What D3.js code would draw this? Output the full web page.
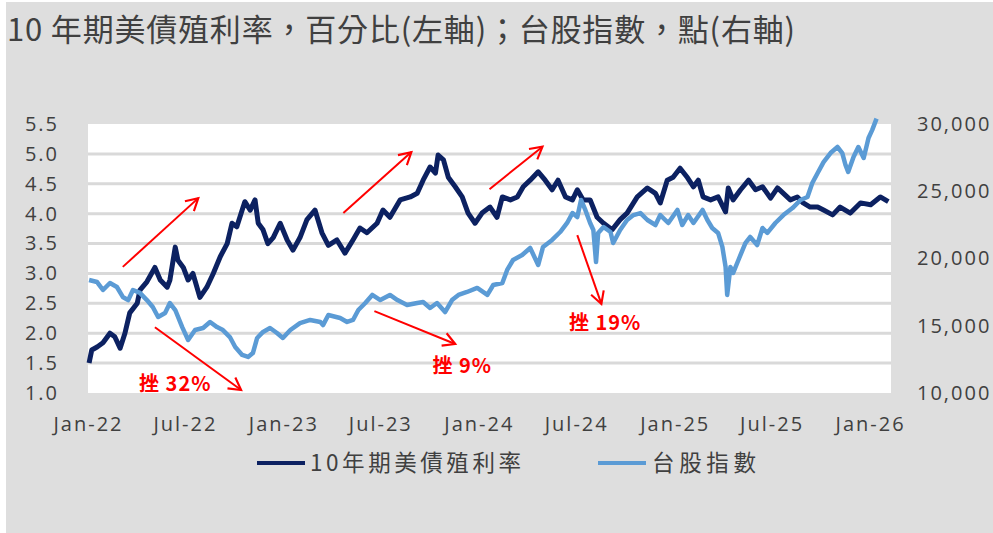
<!DOCTYPE html>
<html><head><meta charset="utf-8">
<script src="https://cdn.jsdelivr.net/npm/d3@7"></script>
<style>body{margin:0;background:#fff;overflow:hidden}</style>
</head><body><svg id="chart" width="993" height="533"></svg>
<script>
// ---------------- data ----------------
const titleText = "10 年期美債殖利率，百分比(左軸)；台股指數，點(右軸)";
const seriesNames = ["10年期美債殖利率", "台股指數"];

const yieldDates = ["2022-01-03","2022-01-08","2022-01-18","2022-01-29","2022-02-11","2022-02-20","2022-03-02","2022-03-11","2022-03-20","2022-04-03","2022-04-08","2022-04-21","2022-05-06","2022-05-16","2022-05-29","2022-06-03","2022-06-13","2022-06-18","2022-06-28","2022-07-07","2022-07-16","2022-07-29","2022-08-11","2022-08-23","2022-09-05","2022-09-18","2022-09-27","2022-10-06","2022-10-16","2022-10-21","2022-10-31","2022-11-09","2022-11-15","2022-11-24","2022-12-03","2022-12-13","2022-12-26","2023-01-08","2023-01-19","2023-02-01","2023-02-14","2023-03-01","2023-03-14","2023-03-26","2023-04-11","2023-04-26","2023-05-11","2023-05-24","2023-06-06","2023-06-25","2023-07-06","2023-07-19","2023-08-07","2023-08-26","2023-09-08","2023-09-19","2023-10-02","2023-10-12","2023-10-17","2023-10-27","2023-11-05","2023-11-18","2023-12-01","2023-12-12","2023-12-25","2024-01-07","2024-01-22","2024-02-04","2024-02-14","2024-02-29","2024-03-13","2024-03-24","2024-04-06","2024-04-21","2024-05-04","2024-05-17","2024-05-28","2024-06-11","2024-06-24","2024-07-03","2024-07-14","2024-07-27","2024-08-09","2024-08-21","2024-09-06","2024-09-21","2024-10-04","2024-10-23","2024-11-11","2024-11-26","2024-12-05","2024-12-18","2024-12-29","2025-01-11","2025-01-25","2025-02-05","2025-02-14","2025-02-23","2025-03-09","2025-03-23","2025-04-06","2025-04-11","2025-04-20","2025-05-04","2025-05-19","2025-06-01","2025-06-14","2025-06-29","2025-07-12","2025-07-23","2025-08-05","2025-08-18","2025-08-29","2025-09-11","2025-09-25","2025-10-06","2025-10-23","2025-11-06","2025-11-25","2025-12-14","2026-01-02","2026-01-20","2026-02-04"];
const yieldValues = [1.50,1.72,1.77,1.84,2.00,1.94,1.75,2.00,2.34,2.50,2.72,2.86,3.10,2.89,2.77,2.89,3.44,3.22,3.10,2.89,3.00,2.60,2.77,3.00,3.28,3.50,3.84,3.78,4.06,4.20,4.06,4.23,3.84,3.73,3.50,3.60,3.84,3.56,3.39,3.60,3.90,4.06,3.68,3.47,3.56,3.34,3.56,3.76,3.68,3.84,4.06,3.94,4.23,4.28,4.34,4.56,4.78,4.68,4.98,4.90,4.61,4.45,4.28,4.01,3.84,4.01,4.11,3.94,4.28,4.23,4.28,4.45,4.56,4.70,4.56,4.40,4.56,4.28,4.23,4.40,4.23,4.23,3.94,3.84,3.73,3.90,4.01,4.28,4.43,4.34,4.18,4.56,4.61,4.76,4.60,4.45,4.56,4.28,4.23,4.28,4.03,4.43,4.23,4.40,4.56,4.40,4.45,4.26,4.43,4.34,4.23,4.28,4.18,4.11,4.11,4.06,3.98,4.11,4.01,4.18,4.15,4.28,4.20];

const taiexDates = ["2022-01-03","2022-01-18","2022-01-29","2022-02-11","2022-02-24","2022-03-07","2022-03-17","2022-03-26","2022-04-08","2022-04-21","2022-05-02","2022-05-12","2022-05-25","2022-06-03","2022-06-13","2022-06-26","2022-07-07","2022-07-20","2022-08-04","2022-08-17","2022-08-30","2022-09-10","2022-09-23","2022-10-03","2022-10-16","2022-10-27","2022-11-05","2022-11-13","2022-11-24","2022-12-07","2022-12-20","2022-12-31","2023-01-14","2023-02-01","2023-02-20","2023-03-11","2023-03-16","2023-03-26","2023-04-17","2023-04-30","2023-05-11","2023-05-21","2023-06-03","2023-06-16","2023-07-01","2023-07-19","2023-08-02","2023-08-20","2023-09-08","2023-09-19","2023-10-02","2023-10-15","2023-10-30","2023-11-12","2023-11-24","2023-12-10","2023-12-29","2024-01-17","2024-01-28","2024-02-14","2024-02-23","2024-03-05","2024-03-22","2024-04-06","2024-04-21","2024-04-30","2024-05-17","2024-06-01","2024-06-14","2024-06-24","2024-07-03","2024-07-10","2024-07-18","2024-07-27","2024-08-02","2024-08-07","2024-08-11","2024-08-21","2024-09-03","2024-09-08","2024-09-21","2024-10-04","2024-10-16","2024-10-29","2024-11-11","2024-11-26","2024-12-05","2024-12-20","2025-01-06","2025-01-15","2025-01-26","2025-02-05","2025-02-22","2025-03-03","2025-03-12","2025-03-23","2025-03-31","2025-04-06","2025-04-09","2025-04-15","2025-04-20","2025-04-30","2025-05-13","2025-05-22","2025-06-04","2025-06-14","2025-06-23","2025-07-08","2025-07-23","2025-08-09","2025-08-24","2025-09-06","2025-09-15","2025-09-25","2025-10-06","2025-10-19","2025-11-01","2025-11-10","2025-11-16","2025-11-21","2025-12-01","2025-12-10","2025-12-20","2025-12-29","2026-01-05","2026-01-13"];
const taiexValues = [18400,18250,17660,18180,17880,17140,16900,17660,17440,16910,16390,15650,15950,16690,16170,14900,13940,14680,14830,15280,14900,14680,14160,13420,12830,12680,12970,14090,14540,14830,14460,14090,14680,15200,15430,15280,15050,15800,15580,15280,15430,16170,16690,17290,16910,17290,16910,16540,16690,16760,16320,16690,16020,16910,17290,17510,17810,17290,18030,18180,19150,19890,20260,20780,19520,20860,21380,21970,22640,23380,23080,24350,23610,22640,22120,19740,21900,22340,21970,21150,22120,22860,23230,23380,22860,22490,23230,22640,23610,22490,23230,22640,23610,22860,22270,21900,20860,19370,17290,19370,18920,19890,21150,21600,21000,22270,21900,22640,23230,23750,24350,24570,25610,26360,27170,27840,28290,27840,26950,26430,27550,28290,27470,28960,29560,30400];

const xTickDates = ["2022-01-01","2022-07-01","2023-01-01","2023-07-01","2024-01-01","2024-07-01","2025-01-01","2025-07-01","2026-01-01"];
const leftTicks = [1.0,1.5,2.0,2.5,3.0,3.5,4.0,4.5,5.0,5.5];
const rightTicks = [10000,15000,20000,25000,30000];

// annotation arrows in data terms (date, left-axis value)
const arrowFromDates = ["2022-03-07","2023-04-23","2024-01-21","2022-05-06","2023-06-20","2024-07-03"];
const arrowFromValues = [3.11,4.01,4.41,2.10,2.37,3.64];
const arrowToDates = ["2022-07-26","2023-08-28","2024-04-29","2022-10-14","2023-11-18","2024-08-17"];
const arrowToValues = [4.26,5.03,5.12,1.05,1.82,2.49];
const noteTexts = ["挫 32%","挫 9%","挫 19%"];
const noteDates = ["2022-06-13","2023-12-01","2024-08-24"];
const noteValues = [1.17,1.47,2.20];

// ---------------- chart ----------------
const parse = d3.timeParse("%Y-%m-%d");
const W = 993, H = 533;
const plot = {left: 88, right: 891, top: 124, bottom: 393};
const navy = "#0c2161", lightBlue = "#5b9bd5", red = "#ff0000", textCol = "#404040";

const svg = d3.select("#chart");
svg.append("rect").attr("x", 0).attr("y", 0).attr("width", W).attr("height", H).attr("fill", "#ffffff");
svg.append("rect").attr("x", 6).attr("y", 2).attr("width", W - 6).attr("height", H - 2).attr("fill", "#dedede");
svg.append("rect").attr("x", plot.left).attr("y", plot.top)
  .attr("width", plot.right - plot.left).attr("height", plot.bottom - plot.top).attr("fill", "#ffffff");

const x = d3.scaleTime().domain([parse("2022-01-01"), parse("2026-02-09")]).range([plot.left, plot.right]);
const yL = d3.scaleLinear().domain([1.0, 5.5]).range([plot.bottom, plot.top]);
const yR = d3.scaleLinear().domain([10000, 30000]).range([plot.bottom, plot.top]);

// gridlines
svg.append("g").selectAll("line").data(leftTicks.filter(v => v > 1.0 && v < 5.5)).join("line")
  .attr("x1", plot.left).attr("x2", plot.right)
  .attr("y1", d => yL(d)).attr("y2", d => yL(d))
  .attr("stroke", "#d9d9d9").attr("stroke-width", 3);

const axisFont = "'Open Sans','Noto Sans',sans-serif";
function styleAxis(g) {
  g.select(".domain").remove();
  g.selectAll("line").remove();
  g.selectAll("text").attr("font-family", axisFont).attr("font-size", 20)
    .attr("fill", textCol).attr("letter-spacing", "2px");
}
svg.append("g").attr("transform", `translate(${plot.left},0)`)
  .call(d3.axisLeft(yL).tickValues(leftTicks).tickFormat(d3.format(".1f")).tickSize(0).tickPadding(29))
  .call(styleAxis);
svg.append("g").attr("transform", `translate(${plot.right},0)`)
  .call(d3.axisRight(yR).tickValues(rightTicks).tickFormat(d3.format(",")).tickSize(0).tickPadding(26))
  .call(styleAxis);
svg.append("g").attr("transform", `translate(0,${plot.bottom})`)
  .call(d3.axisBottom(x).tickValues(xTickDates.map(parse)).tickFormat(d3.timeFormat("%b-%y")).tickSize(0).tickPadding(24))
  .call(styleAxis);

// clip
svg.append("clipPath").attr("id", "clip").append("rect")
  .attr("x", plot.left - 5).attr("y", plot.top - 7).attr("width", plot.right - plot.left + 10).attr("height", plot.bottom - plot.top + 12);

const yieldData = yieldDates.map((d, i) => ({date: parse(d), v: yieldValues[i]}));
const taiexData = taiexDates.map((d, i) => ({date: parse(d), v: taiexValues[i]}));

const gLines = svg.append("g").attr("clip-path", "url(#clip)");
gLines.append("path").datum(yieldData)
  .attr("d", d3.line().x(d => x(d.date)).y(d => yL(d.v)))
  .attr("fill", "none").attr("stroke", navy).attr("stroke-width", 5).attr("stroke-linejoin", "round");
gLines.append("path").datum(taiexData)
  .attr("d", d3.line().x(d => x(d.date)).y(d => yR(d.v)))
  .attr("fill", "none").attr("stroke", lightBlue).attr("stroke-width", 4.5).attr("stroke-linejoin", "round");

// arrows
svg.append("defs").append("marker").attr("id", "arrow")
  .attr("markerUnits", "userSpaceOnUse").attr("markerWidth", 16).attr("markerHeight", 16)
  .attr("viewBox", "0 0 12 12").attr("refX", 10).attr("refY", 6).attr("orient", "auto")
  .append("path").attr("d", "M1,1 L10,6 L1,11").attr("fill", "none").attr("stroke", red).attr("stroke-width", 1.6);
svg.append("g").selectAll("line").data(arrowFromDates).join("line")
  .attr("x1", (d, i) => x(parse(d))).attr("y1", (d, i) => yL(arrowFromValues[i]))
  .attr("x2", (d, i) => x(parse(arrowToDates[i]))).attr("y2", (d, i) => yL(arrowToValues[i]))
  .attr("stroke", red).attr("stroke-width", 2).attr("marker-end", "url(#arrow)");

svg.append("g").selectAll("text").data(noteTexts).join("text")
  .attr("x", (d, i) => x(parse(noteDates[i]))).attr("y", (d, i) => yL(noteValues[i]))
  .attr("text-anchor", "middle").attr("dominant-baseline", "central")
  .attr("font-family", "'Noto Sans CJK TC','Open Sans',sans-serif").attr("font-weight", "bold")
  .attr("font-size", 20).attr("fill", red).attr("letter-spacing", "1px")
  .text(d => d);

// title
svg.append("text").attr("x", 7).attr("y", 41).attr("font-family", "'Noto Sans CJK TC',sans-serif")
  .attr("font-size", 31).attr("fill", textCol).attr("textLength", 788).attr("lengthAdjust", "spacing")
  .text(titleText);

// legend
const legendItems = [
  {name: seriesNames[0], color: navy, x0: 257, tx: 310, tl: 211},
  {name: seriesNames[1], color: lightBlue, x0: 598, tx: 652, tl: 104}
];
const lg = svg.append("g");
legendItems.forEach(it => {
  lg.append("line").attr("x1", it.x0).attr("x2", it.x0 + 48).attr("y1", 463).attr("y2", 463)
    .attr("stroke", it.color).attr("stroke-width", 4);
  lg.append("text").attr("x", it.tx).attr("y", 471).attr("font-family", "'Noto Sans CJK TC',sans-serif")
    .attr("font-size", 22.5).attr("fill", textCol).attr("textLength", it.tl).attr("lengthAdjust", "spacing")
    .text(it.name);
});
</script>
</body></html>
